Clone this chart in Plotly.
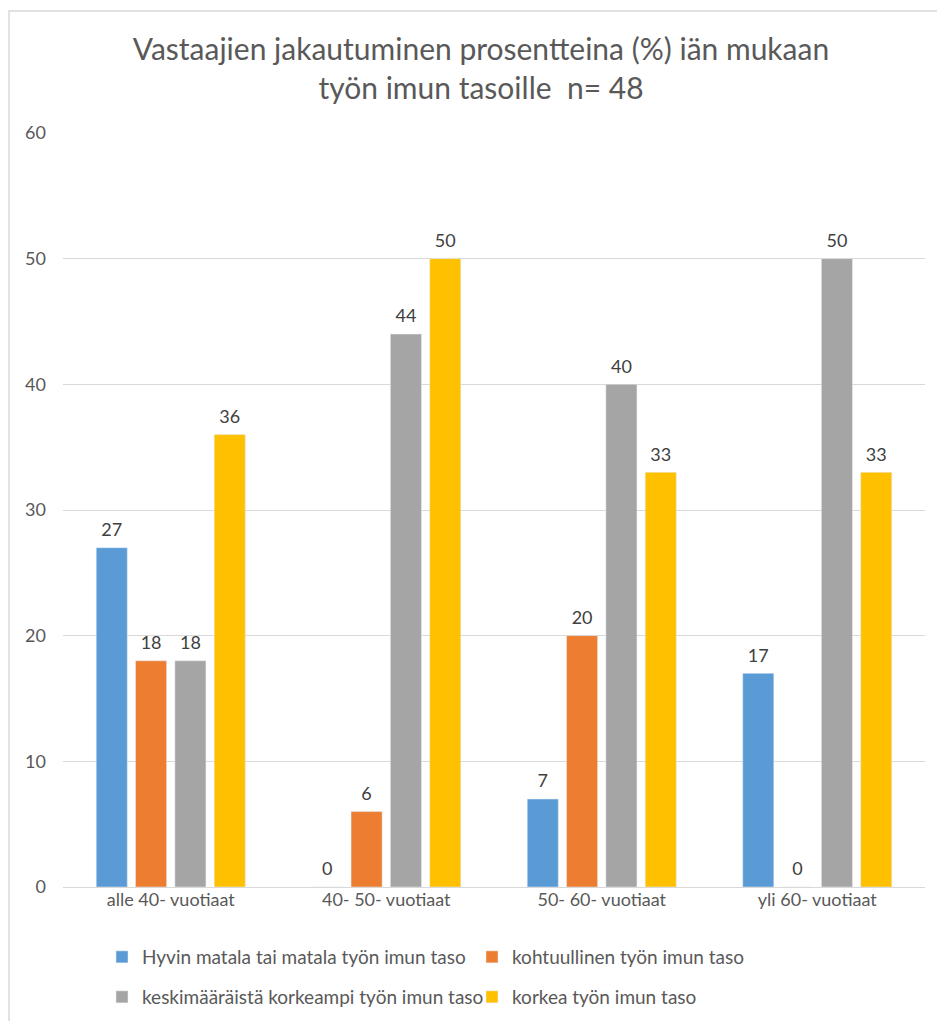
import plotly.graph_objects as go

categories = ["alle 40- vuotiaat", "40- 50- vuotiaat", "50- 60- vuotiaat", "yli 60- vuotiaat"]
series_names = [
    "Hyvin matala tai matala työn imun taso",
    "kohtuullinen työn imun taso",
    "keskimääräistä korkeampi työn imun taso",
    "korkea työn imun taso",
]
hyvin_matala = [27, 0, 7, 17]
kohtuullinen = [18, 6, 20, 0]
keskimaaraista = [18, 44, 40, 50]
korkea = [36, 50, 33, 33]
colors = ["#5B9BD5", "#ED7D31", "#A5A5A5", "#FFC000"]
y_ticks = [0, 10, 20, 30, 40, 50, 60]

FONT = "Lato, Liberation Sans, Arial"
all_values = [hyvin_matala, kohtuullinen, keskimaaraista, korkea]

fig = go.Figure()
for i, (name, vals) in enumerate(zip(series_names, all_values)):
    fig.add_trace(go.Bar(
        x=categories, y=vals, name=name, marker_color=colors[i],
        offsetgroup=str(i), legend="legend" if i < 2 else "legend2",
    ))
for i, vals in enumerate(all_values):
    fig.add_trace(go.Scatter(
        x=categories, y=vals, mode="markers+text", text=[str(v) for v in vals],
        textposition="top center", marker=dict(size=10, opacity=0),
        textfont=dict(size=18, color="#404040", family=FONT),
        offsetgroup=str(i), showlegend=False, hoverinfo="skip", cliponaxis=False,
    ))

W, H = 937, 1021
L, R, T, B = 63, 12, 133, 134
pw = W - L - R
ph = H - T - B

leg_common = dict(orientation="h", xref="container", yref="container",
                  x=102 / W, xanchor="left", yanchor="middle",
                  entrywidth=325, entrywidthmode="pixels",
                  font=dict(size=19, color="#595959", family=FONT),
                  bgcolor="rgba(0,0,0,0)")

fig.update_layout(
    width=W, height=H,
    margin=dict(l=L, r=R, t=T, b=B, autoexpand=False),
    paper_bgcolor="white", plot_bgcolor="white",
    barmode="group", bargap=0.27, bargroupgap=0.21,
    scattermode="group", scattergap=0.27,
    font=dict(family=FONT, color="#595959", size=18),
    title=dict(
        text="Vastaajien jakautuminen prosentteina (%) iän mukaan<br>työn imun tasoille  n= 48",
        x=481 / W, xanchor="center", xref="container", yref="container",
        y=1 - 60 / H, yanchor="middle",
        font=dict(size=30, color="#595959", family=FONT),
    ),
    xaxis=dict(showgrid=False, showline=False, ticks="", tickfont=dict(size=18, color="#595959")),
    yaxis=dict(range=[0, 60], tickvals=y_ticks, showgrid=True, gridcolor="#D9D9D9",
               gridwidth=1, zeroline=True, zerolinecolor="#D9D9D9", zerolinewidth=1,
               showline=False, ticks="", ticklabelstandoff=16,
               tickfont=dict(size=18, color="#595959")),
    legend=dict(leg_common, y=1 - 957 / H),
    legend2=dict(leg_common, y=1 - 997 / H),
    showlegend=True,
)

# outer chart border
fig.add_shape(type="rect", xref="paper", yref="paper",
              x0=(9 - L) / pw, x1=(W + 5 - L) / pw,
              y0=-(H + 5 - T - ph) / ph - 0.0, y1=(H - 11 - B) / ph,
              line=dict(color="#D9D9D9", width=1.5), layer="below")

fig.write_html("out.html")
